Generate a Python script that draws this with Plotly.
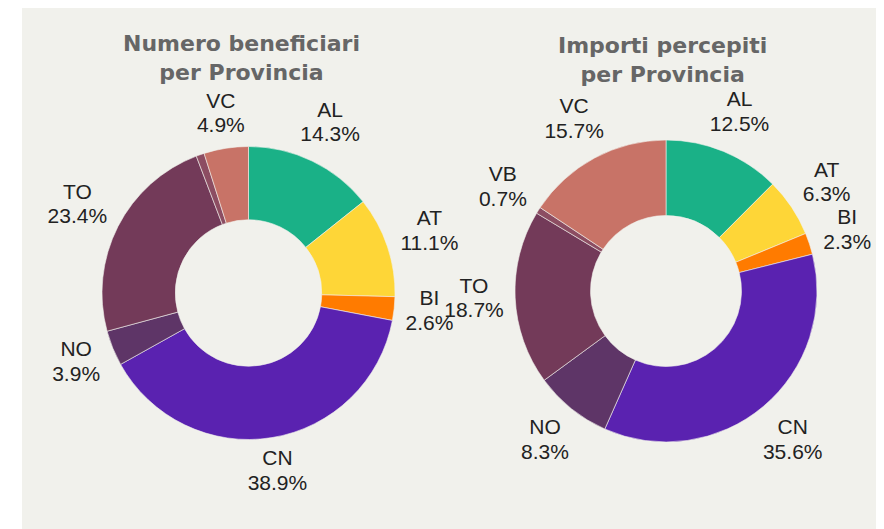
import math
import plotly.graph_objects as go

provinces = ["AL", "AT", "BI", "CN", "NO", "TO", "VB", "VC"]
beneficiari_pct = [14.3, 11.1, 2.6, 38.9, 3.9, 23.4, 0.9, 4.9]
importi_pct = [12.5, 6.3, 2.3, 35.6, 8.3, 18.7, 0.7, 15.7]
slice_colors = ["#1ab187", "#fed637", "#ff7b00", "#5a22b0", "#5e3567",
                "#733a59", "#8c4d62", "#c87367"]
titles = ["Numero beneficiari<br>per Provincia", "Importi percepiti<br>per Provincia"]

W, H = 884, 529
OFF = 8  # page body margin
BG = "#f1f1ec"
FS = 21
GLYPH = {"A": 667, "B": 667, "C": 722, "I": 278, "L": 556, "N": 722, "O": 778,
         "T": 611, "V": 667, ".": 278, "%": 889}


def text_w(s):
    return sum(GLYPH.get(ch, 556) for ch in s) / 1000 * FS


def dom(cx, cy, r):
    cx -= OFF
    cy -= OFF
    return dict(x=[max(0, (cx - r) / W), min(1, (cx + r) / W)],
                y=[max(0, (H - cy - r) / H), min(1, (H - cy + r) / H)])


def mid_angles(vals):
    tot = sum(vals)
    out, cum = [], 0.0
    for v in vals:
        out.append((cum + v / 2) / tot * 360)
        cum += v
    return out


label_font = dict(family="Liberation Sans, Arial, sans-serif", size=FS, color="#222222")

fig = go.Figure()
charts = [
    dict(vals=beneficiari_pct, cx=248.5, cy=293, r=146.5, gap=9.5, hide=1.0, polar="polar"),
    dict(vals=importi_pct, cx=666, cy=291, r=151, gap=10.5, hide=0.0, polar="polar2"),
]
for c in charts:
    fig.add_trace(go.Pie(
        labels=provinces, values=c["vals"], sort=False, direction="clockwise",
        hole=0.5, domain=dom(c["cx"], c["cy"], c["r"]),
        marker=dict(colors=slice_colors, line=dict(color=BG, width=0.6)),
        textinfo="none", hoverinfo="skip", showlegend=False,
    ))
    th = mid_angles(c["vals"])
    keep = [i for i, v in enumerate(c["vals"]) if v >= c["hide"]]
    names = [provinces[i] for i in keep]
    pcts = ["%.1f%%" % c["vals"][i] for i in keep]
    thetas = [th[i] for i in keep]
    radii = []
    for nm, pc, t in zip(names, pcts, thetas):
        w = max(text_w(nm), text_w(pc))
        a = math.radians(t)
        radii.append(c["r"] + c["gap"] + w / 2 * abs(math.sin(a)) + 21 * abs(math.cos(a)))
    for txt, pos in [(names, "top center"), (pcts, "bottom center")]:
        fig.add_trace(go.Scatterpolar(
            r=radii, theta=thetas, mode="markers+text",
            marker=dict(size=1.3, color="rgba(0,0,0,0)"),
            text=txt, textposition=pos,
            textfont=label_font, subplot=c["polar"], cliponaxis=False,
            hoverinfo="skip", showlegend=False,
        ))
    c["RP"] = c["r"] * 1.38
    c["pdom"] = dom(c["cx"], c["cy"], c["RP"])

for key, c in zip(["polar", "polar2"], charts):
    fig.update_layout({key: dict(
        domain=c["pdom"], bgcolor="rgba(0,0,0,0)",
        radialaxis=dict(visible=False, range=[0, c["RP"]]),
        angularaxis=dict(visible=False, rotation=90, direction="clockwise"))})

for txt, cx, cy in [(titles[0], 241, 58), (titles[1], 662, 60)]:
    fig.add_annotation(text="<b>" + txt.replace("<br>", "</b><br><b>") + "</b>",
                       x=(cx - OFF) / W, y=1 - (cy - OFF) / H, xref="paper", yref="paper",
                       xanchor="center", yanchor="middle", showarrow=False,
                       font=dict(family="DejaVu Sans, sans-serif", size=22, color="#666666"))

fig.add_shape(type="rect", xref="paper", yref="paper",
              x0=(22 - OFF) / W, x1=1.05, y0=-0.05, y1=1.05,
              fillcolor=BG, line=dict(width=0), layer="below")

fig.update_layout(width=W, height=H, margin=dict(l=0, r=0, t=0, b=0),
                  paper_bgcolor="white", plot_bgcolor="white")
fig.write_html("out.html")
